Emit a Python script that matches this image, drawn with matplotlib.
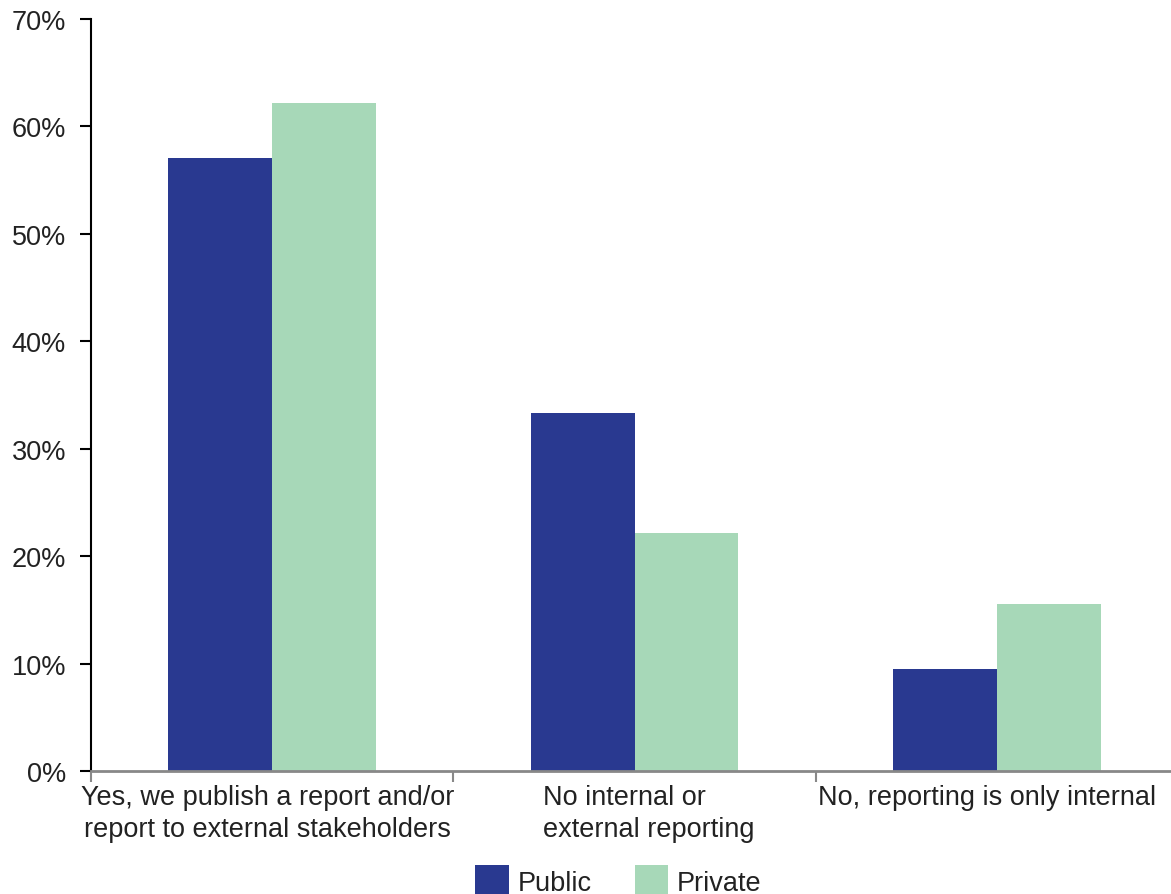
import numpy as np
import matplotlib.pyplot as plt
import matplotlib.transforms as mtransforms
from matplotlib.ticker import PercentFormatter

plt.rcParams['font.family'] = ['Liberation Sans', 'DejaVu Sans']

# --- data ---
categories = ['Yes, we publish a report and/or\nreport to external stakeholders',
              'No internal or\nexternal reporting',
              'No, reporting is only internal']
public = [57.1, 33.3, 9.5]
private = [62.2, 22.2, 15.5]

BLUE = '#293990'
GREEN = '#a7d8b8'
FS = 19.5

fig = plt.figure(figsize=(11.71, 8.95), dpi=100)
ax = fig.add_axes([91 / 1171, 1 - 772 / 895, 1087 / 1171, (772 - 20) / 895])

x = np.arange(len(categories))
w = 0.287
ax.bar(x - w / 2, public, w, color=BLUE, label='Public')
ax.bar(x + w / 2, private, w, color=GREEN, label='Private')

ax.set_xlim(-0.5, 2.5)
ax.set_ylim(0, 70)
ax.set_yticks(np.arange(0, 71, 10))
ax.yaxis.set_major_formatter(PercentFormatter(decimals=0))

# x ticks sit on category boundaries
ax.set_xticks(np.arange(-0.5, 2.6, 1.0))
ax.set_xticklabels([])
ax.tick_params(axis='x', which='major', length=8, width=1.5, color='#888888')
ax.tick_params(axis='y', length=8, width=1.5, color='black',
               labelsize=FS, labelcolor='#222222', pad=10)

# category labels under each group (small nudges to match source layout)
nudge = [-0.012, 0.04, -0.028]
align = ['center', 'left', 'center']
trans = mtransforms.blended_transform_factory(ax.transData, ax.transAxes)
for i, lab in enumerate(categories):
    ax.text(x[i] + nudge[i], -0.017, lab, transform=trans, ha='center', va='top',
            multialignment=align[i], fontsize=FS, color='#222222',
            linespacing=1.3)

for s in ['top', 'right']:
    ax.spines[s].set_visible(False)
ax.spines['left'].set_linewidth(1.5)
ax.spines['left'].set_color('black')
ax.spines['bottom'].set_linewidth(2)
ax.spines['bottom'].set_color('#888888')

leg = fig.legend(loc='upper center', bbox_to_anchor=(0.528, 1 - 866 / 895), ncol=2,
                 frameon=False, fontsize=FS, handlelength=1.25, handleheight=1.4,
                 columnspacing=1.6, handletextpad=0.3, borderaxespad=0,
                 borderpad=0)
for t in leg.get_texts():
    t.set_color('#222222')

fig.savefig('out.png', dpi=100)
